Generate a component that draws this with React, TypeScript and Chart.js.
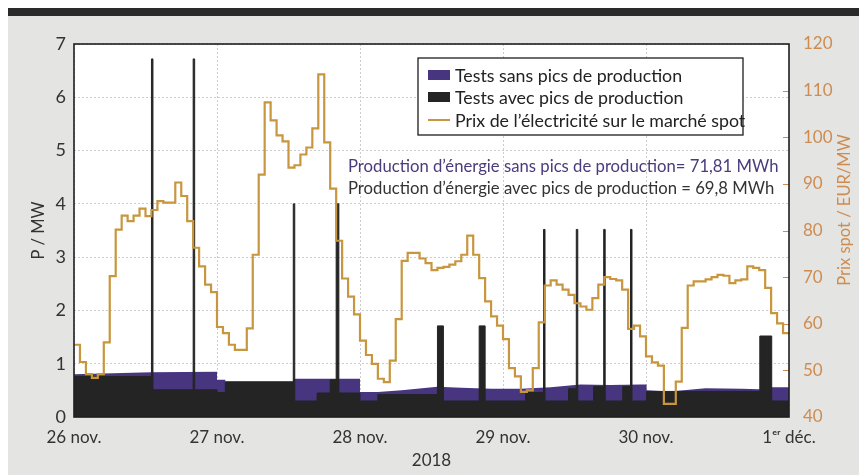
import React, { useEffect, useRef } from 'react';
import { Chart, registerables } from 'chart.js';

Chart.register(...registerables);

// ---- data ----
const dayLabels = ['26 nov.', '27 nov.', '28 nov.', '29 nov.', '30 nov.', '1ᵉʳ déc.'];
const yearLabel = '2018';

// hourly spot price (EUR/MW), hour 0 = 26 nov. 00:00
const prixSpot = [
  55.5, 51.8, 49.2, 48.4, 49.2, 56, 70.2, 80.2, 83.2, 82, 83.2, 84.7,
  83.1, 84.4, 86.3, 86, 86, 90.3, 87.4, 82, 76.3, 72.3, 68.4, 66.8,
  59.3, 58, 55.5, 54.4, 54.4, 59, 74.8, 92, 107.5, 103.6, 100.4, 99.1,
  93.5, 94, 96.3, 97.8, 101.9, 113.5, 98.9, 89, 77.8, 69.7, 65.8, 62,
  56.4, 53.3, 51.4, 48.2, 47.5, 52.1, 61, 73.5, 75.2, 75.2, 74, 73,
  71.5, 72, 72.2, 72.7, 73.4, 74.8, 78.9, 74.8, 69.8, 64.8, 61.6, 59.6,
  56.7, 50.5, 48.7, 45.4, 45.7, 50.5, 60.3, 68.2, 69.3, 68.4, 67.3, 66.2,
  64.4, 63.7, 63, 65.5, 68.4, 70, 69.6, 69.3, 67.3, 58.9, 59.6, 57.3,
  53, 51.7, 51, 42.8, 42.8, 47.6, 59.1, 68.2, 69.1, 69.1, 69.5, 70,
  70.5, 70.3, 68.7, 69.3, 69.5, 72.3, 72, 71.5, 67.7, 62.3, 60.1, 58,
];

// Tests sans pics de production (MW)
const sansPicsHeures = [0, 13, 24, 24, 25.4, 25.4, 36.8, 36.8, 48, 48, 51, 55, 61, 65, 70, 75, 80, 85, 90, 95, 96.1, 96.1, 100, 106, 112, 115, 117, 120];
const sansPicsMW = [0.8, 0.84, 0.85, 0.7, 0.7, 0.66, 0.66, 0.72, 0.72, 0.47, 0.47, 0.5, 0.57, 0.55, 0.53, 0.53, 0.56, 0.61, 0.6, 0.61, 0.61, 0.5, 0.48, 0.54, 0.53, 0.52, 0.56, 0.56];

// Tests avec pics de production (MW), value holds from each hour until the next
const avecPicsHeures = [0, 13, 13.25, 20, 20.25, 24, 25.4, 36.8, 37.05, 40.8, 43, 44, 44.45, 48, 51, 61, 62, 68, 69, 75.8, 78.8, 79.05, 83, 84.3, 84.55, 87.2, 88.9, 89.15, 92.1, 93.4, 93.65, 96.1, 115.1, 117.1, 120];
const avecPicsMW = [0.76, 6.72, 0.51, 6.72, 0.51, 0.46, 0.66, 4.0, 0.3, 0.45, 0.7, 4.0, 0.45, 0.3, 0.42, 1.71, 0.3, 1.71, 0.3, 0.46, 3.52, 0.3, 0.53, 3.52, 0.3, 0.57, 3.52, 0.3, 0.57, 3.52, 0.3, 0.48, 1.52, 0.3, 0.3];

const energieSans = '71,81';
const energieAvec = '69,8';

// ---- styles ----
const FONT = 'Lato, "Open Sans", "DejaVu Sans", sans-serif';
const PURPLE = '#47357f';
const BLACK = '#242424';
const ORANGE_LINE = '#c8963e';
const ORANGE_TEXT = '#cf8c50';
const TEXT = '#333333';

const decorPlugin = {
  id: 'decor',
  beforeDraw(chart: any) {
    const { ctx, chartArea: a } = chart;
    ctx.save();
    ctx.fillStyle = '#ffffff';
    ctx.fillRect(a.left, a.top, a.right - a.left, a.bottom - a.top);
    ctx.restore();
  },
  afterDatasetsDraw(chart: any) {
    const { ctx, chartArea: a } = chart;
    const y2 = chart.scales.y2;
    ctx.save();
    // orange ticks of right axis, inside the plot
    ctx.strokeStyle = ORANGE_TEXT;
    ctx.lineWidth = 1;
    for (let v = 50; v <= 110; v += 10) {
      const y = Math.round(y2.getPixelForValue(v)) + 0.5;
      ctx.beginPath();
      ctx.moveTo(a.right - 6, y);
      ctx.lineTo(a.right, y);
      ctx.stroke();
    }
    // frame
    ctx.strokeStyle = '#1e1e1e';
    ctx.lineWidth = 1.6;
    ctx.strokeRect(a.left, a.top, a.right - a.left, a.bottom - a.top);
    ctx.restore();
  },
  afterDraw(chart: any) {
    const { ctx, chartArea: a } = chart;
    const ds = chart.data.datasets;
    ctx.save();
    // legend box
    const bx = a.left + 344;
    const by = a.top + 14;
    const bw = 325;
    const bh = 77;
    ctx.fillStyle = '#ffffff';
    ctx.fillRect(bx, by, bw, bh);
    ctx.strokeStyle = '#1e1e1e';
    ctx.lineWidth = 1.3;
    ctx.strokeRect(bx, by, bw, bh);
    const rows = [17, 39, 62];
    ctx.font = `400 17.8px ${FONT}`;
    ctx.textBaseline = 'middle';
    ctx.textAlign = 'left';
    ds.forEach((d: any, i: number) => {
      const cy = by + rows[i];
      if (i < 2) {
        ctx.fillStyle = d.backgroundColor;
        ctx.fillRect(bx + 10, cy - 5, 22, 10);
      } else {
        ctx.strokeStyle = d.borderColor;
        ctx.lineWidth = 2;
        ctx.beginPath();
        ctx.moveTo(bx + 10, cy);
        ctx.lineTo(bx + 32, cy);
        ctx.stroke();
      }
      ctx.fillStyle = '#222222';
      ctx.fillText(d.label, bx + 37, cy + 1);
    });
    // energy annotations
    ctx.font = `400 16.7px ${FONT}`;
    ctx.fillStyle = '#4a3c7c';
    ctx.fillText(`Production d’énergie sans pics de production= ${energieSans} MWh`, a.left + 274, a.top + 123);
    ctx.fillStyle = TEXT;
    ctx.fillText(`Production d’énergie avec pics de production = ${energieAvec} MWh`, a.left + 274, a.top + 145);
    // right axis title (reads bottom to top)
    ctx.translate(a.right + 56, a.top + 166);
    ctx.rotate(-Math.PI / 2);
    ctx.textAlign = 'center';
    ctx.fillStyle = ORANGE_TEXT;
    ctx.font = `400 16.5px ${FONT}`;
    ctx.fillText('Prix spot / EUR/MW', 0, 0);
    ctx.restore();
  },
};

export default function App() {
  const ref = useRef<HTMLCanvasElement>(null);
  useEffect(() => {
    if (!ref.current) return;
    Chart.defaults.font.family = FONT;
    const chart = new Chart(ref.current, {
      type: 'line',
      data: {
        datasets: [
          {
            label: 'Tests sans pics de production',
            data: sansPicsHeures.map((x, i) => ({ x, y: sansPicsMW[i] })),
            borderWidth: 0,
            borderColor: PURPLE,
            backgroundColor: PURPLE,
            fill: 'origin',
            pointRadius: 0,
            tension: 0,
            yAxisID: 'y',
            order: 3,
          },
          {
            label: 'Tests avec pics de production',
            data: avecPicsHeures.map((x, i) => ({ x, y: avecPicsMW[i] })),
            stepped: true,
            borderWidth: 1,
            borderColor: BLACK,
            backgroundColor: BLACK,
            fill: 'origin',
            pointRadius: 0,
            yAxisID: 'y',
            order: 2,
          },
          {
            label: 'Prix de l’électricité sur le marché spot',
            data: [
              ...prixSpot.map((v, i) => ({ x: i, y: v })),
              { x: prixSpot.length, y: prixSpot[prixSpot.length - 1] },
            ],
            stepped: true,
            borderWidth: 2.2,
            borderColor: ORANGE_LINE,
            backgroundColor: ORANGE_LINE,
            fill: false,
            pointRadius: 0,
            yAxisID: 'y2',
            order: 1,
          },
        ],
      },
      options: {
        animation: false,
        responsive: false,
        events: [],
        layout: { padding: { top: 36, left: 0, right: 0, bottom: 0 } },
        plugins: { legend: { display: false }, tooltip: { enabled: false }, title: { display: false } },
        scales: {
          x: {
            type: 'linear',
            min: 0,
            max: 120,
            afterFit: (s: any) => { s.height = 58; },
            ticks: {
              stepSize: 24,
              autoSkip: false,
              maxRotation: 0,
              padding: 10,
              color: TEXT,
              font: { size: 17, weight: '400' },
              callback: (v: any) => dayLabels[Math.round(Number(v) / 24)] ?? '',
            },
            grid: { color: '#cccccc', lineWidth: 1, drawTicks: false },
            border: { display: false, dash: [2, 2] },
            title: { display: true, text: yearLabel, color: TEXT, font: { size: 17, weight: '400' }, padding: { top: 0, bottom: 4 } },
          },
          y: {
            type: 'linear',
            position: 'left',
            min: 0,
            max: 7,
            afterFit: (s: any) => { s.width = 66; },
            ticks: { stepSize: 1, padding: 8, color: TEXT, font: { size: 18, weight: '400' } },
            grid: { color: '#cccccc', lineWidth: 1, drawTicks: false },
            border: { display: false, dash: [2, 2] },
            title: { display: true, text: 'P / MW', color: TEXT, font: { size: 16.5, weight: '400' }, padding: { top: 21, bottom: 0 } },
          },
          y2: {
            type: 'linear',
            position: 'right',
            min: 40,
            max: 120,
            afterFit: (s: any) => { s.width = 70; },
            ticks: { stepSize: 10, padding: 6, color: ORANGE_TEXT, font: { size: 17, weight: '400' } },
            grid: { display: false, drawOnChartArea: false },
            border: { display: false },
          },
        },
      },
      plugins: [decorPlugin],
    } as any);
    return () => chart.destroy();
  }, []);

  return (
    <div
      style={{
        position: 'fixed',
        left: 8,
        top: 8,
        width: 851,
        height: 467,
        background: '#e4e4e2',
        overflow: 'hidden',
      }}
    >
      <div style={{ position: 'absolute', left: 0, top: 0, width: 851, height: 8, background: '#2a2a2a' }} />
      <canvas ref={ref} width={851} height={467} style={{ position: 'absolute', left: 0, top: 0, display: 'block' }} />
    </div>
  );
}
